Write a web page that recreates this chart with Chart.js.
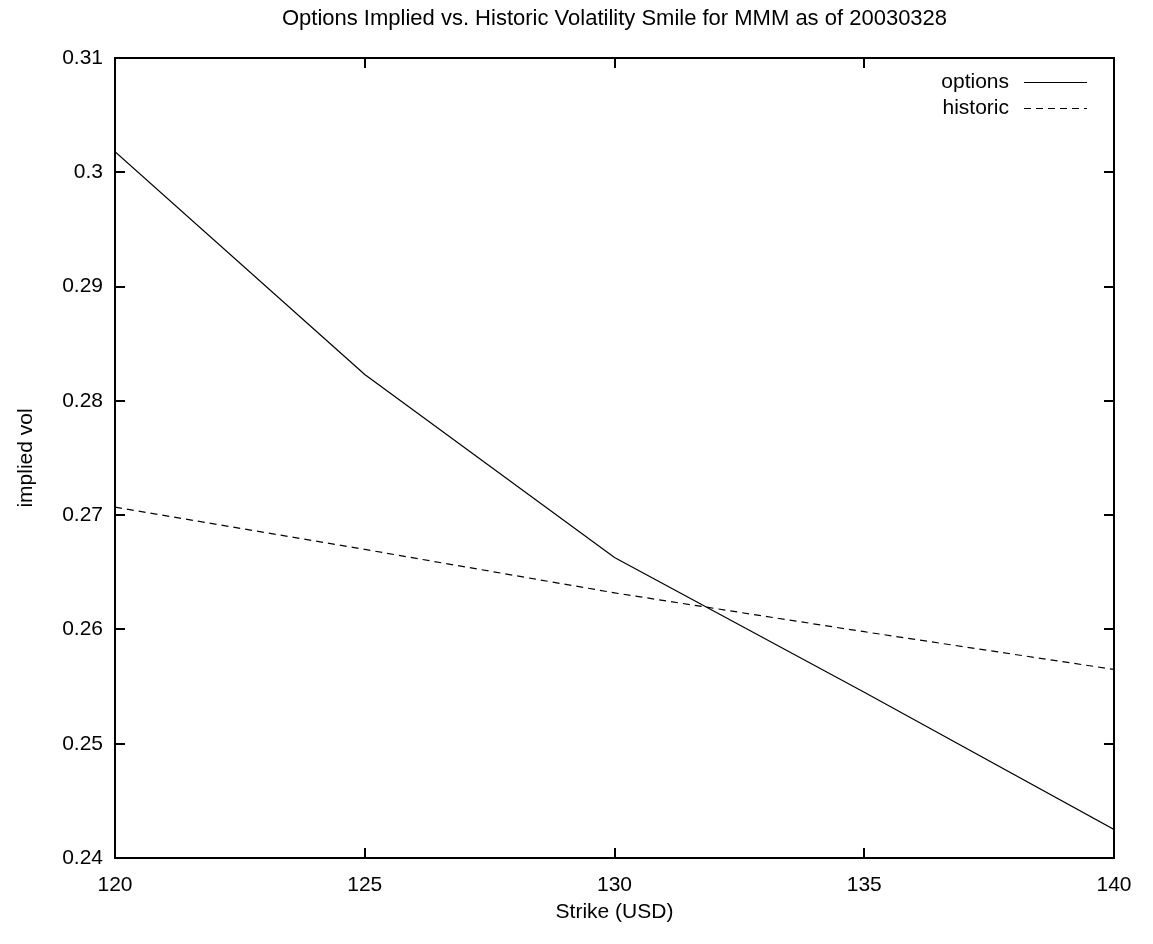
<!DOCTYPE html>
<html>
<head>
<meta charset="utf-8">
<script src="https://cdn.jsdelivr.net/npm/chart.js@4.4.1/dist/chart.umd.min.js"></script>
<style>
  body { margin: 0; background: #fff; }
  canvas { display: block; }
</style>
</head>
<body>
<canvas id="volChart" width="1153" height="944"></canvas>
<script>
const chartTitle = 'Options Implied vs. Historic Volatility Smile for MMM as of 20030328';
const strikes = [120, 125, 130, 135, 140];
const optionsVol = [0.3018, 0.2823, 0.2663, 0.2545, 0.2425];
const historicVol = [0.2707, 0.2670, 0.2632, 0.2598, 0.2565];
const seriesLabels = ['options', 'historic'];

const FONT = 'Liberation Sans, Arial, sans-serif';
const ctx = document.getElementById('volChart');

// gnuplot style frame: border, inward ticks on all sides, title and key
const gnuplotFrame = {
  id: 'gnuplotFrame',
  afterDraw(chart) {
    const c = chart.ctx;
    const area = chart.chartArea;
    const xs = chart.scales.x;
    const ys = chart.scales.y;
    c.save();
    c.strokeStyle = '#000';
    c.lineWidth = 2;
    c.strokeRect(area.left, area.top, area.right - area.left, area.bottom - area.top);

    const tl = 10;
    c.beginPath();
    xs.ticks.forEach((t) => {
      const px = Math.round(xs.getPixelForValue(t.value));
      c.moveTo(px, area.bottom);
      c.lineTo(px, area.bottom - tl);
      c.moveTo(px, area.top);
      c.lineTo(px, area.top + tl);
    });
    ys.ticks.forEach((t) => {
      const py = Math.round(ys.getPixelForValue(t.value));
      c.moveTo(area.left, py);
      c.lineTo(area.left + tl, py);
      c.moveTo(area.right, py);
      c.lineTo(area.right - tl, py);
    });
    c.stroke();

    // title
    c.fillStyle = '#000';
    c.font = '22px ' + FONT;
    c.textAlign = 'center';
    c.textBaseline = 'middle';
    c.fillText(chartTitle, (area.left + area.right) / 2, 19);

    // key
    c.font = '21px ' + FONT;
    c.textAlign = 'right';
    c.lineWidth = 1.2;
    chart.data.datasets.forEach((ds, i) => {
      const y = 82 + i * 26;
      c.fillText(ds.label, 1009, y);
      c.setLineDash(ds.borderDash || []);
      c.beginPath();
      c.moveTo(1024, y + 0.5);
      c.lineTo(1087, y + 0.5);
      c.stroke();
    });
    c.restore();
  },
};

const toPoints = (vals) => vals.map((v, i) => ({ x: strikes[i], y: v }));

const data = {
  datasets: [
    {
      label: seriesLabels[0],
      data: toPoints(optionsVol),
      borderColor: '#000',
      borderWidth: 1.2,
      pointRadius: 0,
      tension: 0,
    },
    {
      label: seriesLabels[1],
      data: toPoints(historicVol),
      borderColor: '#000',
      borderWidth: 1.2,
      borderDash: [7, 5],
      pointRadius: 0,
      tension: 0,
    },
  ],
};

const config = {
  type: 'line',
  data: data,
  options: {
    responsive: false,
    animation: false,
    layout: { padding: { top: 58, right: 39, left: 0, bottom: 0 } },
    plugins: {
      legend: { display: false },
      tooltip: { enabled: false },
    },
    scales: {
      x: {
        type: 'linear',
        min: 120,
        max: 140,
        ticks: { stepSize: 5, color: '#000', font: { family: FONT, size: 21 }, padding: 15 },
        grid: { display: false, drawTicks: false },
        border: { display: false },
        title: {
          display: true,
          text: 'Strike (USD)',
          color: '#000',
          font: { family: FONT, size: 21 },
          padding: { top: 0, bottom: 19 },
        },
        afterFit: (s) => { s.height = 86; },
      },
      y: {
        min: 0.24,
        max: 0.31,
        ticks: {
          stepSize: 0.01,
          color: '#000',
          font: { family: FONT, size: 21 },
          padding: 12,
          callback: (v) => parseFloat(v.toFixed(2)).toString(),
        },
        grid: { display: false, drawTicks: false },
        border: { display: false },
        title: {
          display: true,
          text: 'implied vol',
          color: '#000',
          font: { family: FONT, size: 21 },
          padding: { top: 14, bottom: 0 },
        },
        afterFit: (s) => { s.width = 115; },
      },
    },
  },
  plugins: [gnuplotFrame],
};

const volChart = new Chart(ctx, config);
</script>
</body>
</html>
